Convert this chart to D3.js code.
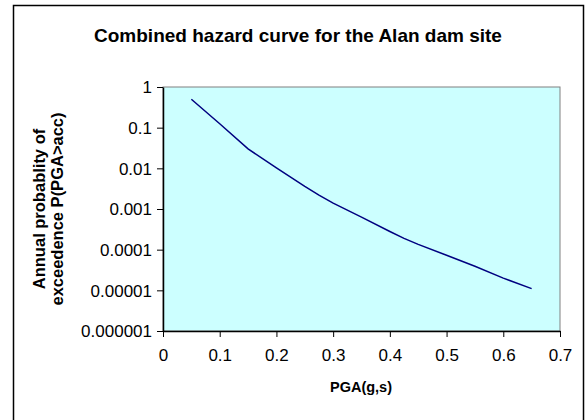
<!DOCTYPE html>
<html><head><meta charset="utf-8">
<script src="https://cdn.jsdelivr.net/npm/d3@7"></script>
<style>body{margin:0;background:#fff;}svg{display:block;font-family:Arial,"Liberation Sans",sans-serif;}</style>
</head><body>
<script>
const pga = [0.05,0.10,0.15,0.20,0.25,0.275,0.30,0.35,0.40,0.425,0.45,0.50,0.55,0.60,0.65];
const prob = [0.5,0.125,0.030,0.0102,0.0036,0.0022,0.0014,0.00063,0.00028,0.00019,0.000135,0.000073,0.000039,0.00002,0.000011];
const xTicks = [0,0.1,0.2,0.3,0.4,0.5,0.6,0.7];
const yTicks = [1,0.1,0.01,0.001,0.0001,0.00001,0.000001];
const yTickLabels = ["1","0.1","0.01","0.001","0.0001","0.00001","0.000001"];
const title = "Combined hazard curve for the Alan dam site";
const yTitle = ["Annual probablity of","exceedence P(PGA>acc)"];
const xTitle = "PGA(g,s)";

const W=585,H=420;
const svg=d3.select("body").append("svg").attr("width",W).attr("height",H);
svg.append("rect").attr("x",13.5).attr("y",5.5).attr("width",570).attr("height",430)
  .attr("fill","#fff").attr("stroke","#000").attr("stroke-width",1.5);

const L=163,R=560,T=87,B=331;
const x=d3.scaleLinear().domain([0,0.7]).range([L,R]);
const y=d3.scaleLog().domain([0.000001,1]).range([B,T]);

svg.append("rect").attr("x",L).attr("y",T).attr("width",R-L).attr("height",B-T)
  .attr("fill","#ccffff").attr("stroke","#808080").attr("stroke-width",1);

const xa=svg.append("g").attr("transform",`translate(0,${B})`)
  .call(d3.axisBottom(x).tickValues(xTicks).tickSize(6).tickSizeOuter(0).tickFormat(d3.format("")));
const ya=svg.append("g").attr("transform",`translate(${L},0)`)
  .call(d3.axisLeft(y).tickValues(yTicks).tickSize(6).tickSizeOuter(0).tickFormat((d,i)=>yTickLabels[i]));
[xa,ya].forEach(a=>{
  a.attr("font-size",17).attr("font-family","Arial,'Liberation Sans',sans-serif");
  a.select(".domain").attr("stroke","#000").attr("stroke-width",1.5);
  a.selectAll(".tick line").attr("stroke","#000").attr("stroke-width",1);
  a.selectAll("text").attr("fill","#000");
});
xa.selectAll("text").attr("dy","0").attr("y",30);
ya.selectAll("text").attr("x",-11).attr("dy","0.35em");

svg.append("path").datum(pga.map((d,i)=>[d,prob[i]]))
  .attr("fill","none").attr("stroke","#000080").attr("stroke-width",1.5)
  .attr("d",d3.line().x(d=>x(d[0])).y(d=>y(d[1])));

svg.append("text").attr("x",298).attr("y",42).attr("text-anchor","middle")
  .attr("font-size",19).attr("font-weight","bold").text(title);
svg.append("text").attr("x",361).attr("y",392).attr("text-anchor","middle")
  .attr("font-size",14.5).attr("font-weight","bold").text(xTitle);
const yt=svg.append("text").attr("transform",`translate(45,${(T+B)/2}) rotate(-90)`)
  .attr("text-anchor","middle").attr("font-size",16.5).attr("font-weight","bold");
yTitle.forEach((t,i)=>yt.append("tspan").attr("x",0).attr("y",i*17.5).text(t));
</script>
</body></html>
